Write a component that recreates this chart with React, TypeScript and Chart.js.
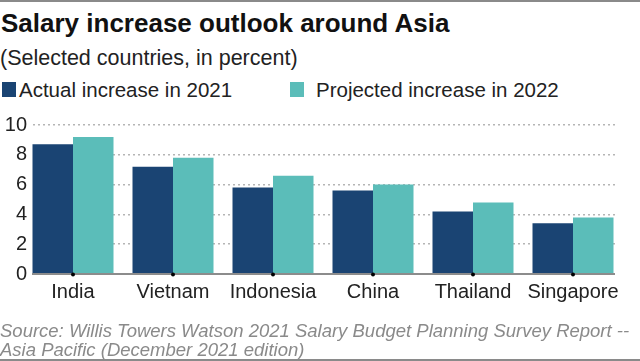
import React, { useEffect, useRef } from "react";
import { Chart, registerables } from "chart.js";

Chart.register(...registerables);

const categories = ["India", "Vietnam", "Indonesia", "China", "Thailand", "Singapore"];
const actual2021 = [8.7, 7.2, 5.8, 5.6, 4.2, 3.4];
const projected2022 = [9.2, 7.8, 6.6, 6.0, 4.8, 3.8];
const seriesNames = ["Actual increase in 2021", "Projected increase in 2022"];
const yTicks = [0, 2, 4, 6, 8, 10];

const DARK = "#1a4473";
const TEAL = "#5bbdb9";
const FONT = "'Liberation Sans', Arial, sans-serif";

const widenX = {
  id: "widenX",
  afterLayout(chart: any) {
    const xs = chart.scales.x;
    const a = chart.chartArea;
    xs.left = a.left - 10;
    xs.right = a.right + 8;
    xs.width = xs.right - xs.left;
    xs.configure();
  },
  afterDatasetsDraw(chart: any) {
    const ctx = chart.ctx;
    const xs = chart.scales.x;
    const ys = chart.scales.y;
    const a = chart.chartArea;
    const y0 = ys.getPixelForValue(0);
    ctx.save();
    ctx.strokeStyle = "#8c8c8c";
    ctx.lineWidth = 2;
    ctx.beginPath();
    ctx.moveTo(a.left - 1, y0);
    ctx.lineTo(a.right, y0);
    ctx.stroke();
    ctx.fillStyle = "#000";
    categories.forEach((_, i) => {
      const x = xs.getPixelForValue(i);
      ctx.beginPath();
      ctx.arc(x, y0 + 0.5, 2, 0, Math.PI * 2);
      ctx.fill();
    });
    ctx.restore();
  },
};

export default function App() {
  const ref = useRef<HTMLCanvasElement>(null);
  useEffect(() => {
    if (!ref.current) return;
    const chart = new Chart(ref.current, {
      type: "bar",
      data: {
        labels: categories,
        datasets: [
          { label: seriesNames[0], data: actual2021, backgroundColor: DARK, borderWidth: 0 },
          { label: seriesNames[1], data: projected2022, backgroundColor: TEAL, borderWidth: 0 },
        ],
      },
      options: {
        animation: false,
        responsive: false,
        maintainAspectRatio: false,
        layout: { padding: { left: 0, right: 25, top: 125, bottom: 57 } },
        plugins: { legend: { display: false }, tooltip: { enabled: false } },
        datasets: { bar: { categoryPercentage: 0.81, barPercentage: 1.0 } },
        scales: {
          x: {
            grid: { display: false },
            border: { display: false },
            ticks: { color: "#222", font: { family: FONT, size: 20 }, padding: -2, maxRotation: 0, autoSkip: false },
            afterFit: (s: any) => { s.height = 30; },
          },
          y: {
            min: 0,
            max: 10,
            afterBuildTicks: (s: any) => { s.ticks = yTicks.map((v) => ({ value: v })); },
            grid: {
              drawTicks: false,
              color: (c: any) => (c.tick && c.tick.value === 0 ? "rgba(0,0,0,0)" : "#b5b5b5"),
              lineWidth: 1.5,
            },
            border: { display: false, dash: [2, 3] },
            ticks: { color: "#222", font: { family: FONT, size: 20 }, padding: 6 },
            afterFit: (s: any) => { s.width = 33; },
          },
        },
      },
      plugins: [widenX],
    });
    return () => chart.destroy();
  }, []);

  const text = (style: React.CSSProperties, content: React.ReactNode) => (
    <div style={{ position: "absolute", whiteSpace: "nowrap", fontFamily: FONT, lineHeight: 1, ...style }}>{content}</div>
  );

  return (
    <div style={{ position: "fixed", left: 0, top: 0, width: 640, height: 361, background: "#fff", overflow: "hidden" }}>
      <div style={{ position: "absolute", left: 0, top: 0, width: 640, height: 2, background: "#8a8a8a" }} />
      {text({ left: 1, top: 9.5, fontSize: 26, fontWeight: "bold", color: "#111" }, "Salary increase outlook around Asia")}
      {text({ left: 0, top: 48.3, fontSize: 21.5, color: "#222" }, "(Selected countries, in percent)")}
      <div style={{ position: "absolute", left: 2, top: 82, width: 14, height: 15, background: DARK }} />
      {text({ left: 19, top: 79.6, fontSize: 20.5, color: "#222" }, seriesNames[0])}
      <div style={{ position: "absolute", left: 290, top: 82, width: 14, height: 15, background: TEAL }} />
      {text({ left: 316, top: 79.6, fontSize: 20.5, color: "#222" }, seriesNames[1])}
      <canvas ref={ref} width={640} height={361} style={{ position: "absolute", left: 0, top: 0, width: 640, height: 361 }} />
      {text({ left: 0, top: 322.3, fontSize: 18.5, fontStyle: "italic", color: "#8a8a8a" }, "Source: Willis Towers Watson 2021 Salary Budget Planning Survey Report --")}
      {text({ left: 0, top: 341.3, fontSize: 18.5, fontStyle: "italic", color: "#8a8a8a" }, "Asia Pacific (December 2021 edition)")}
      <div style={{ position: "absolute", left: 0, top: 359, width: 640, height: 2, background: "#8a8a8a" }} />
    </div>
  );
}
